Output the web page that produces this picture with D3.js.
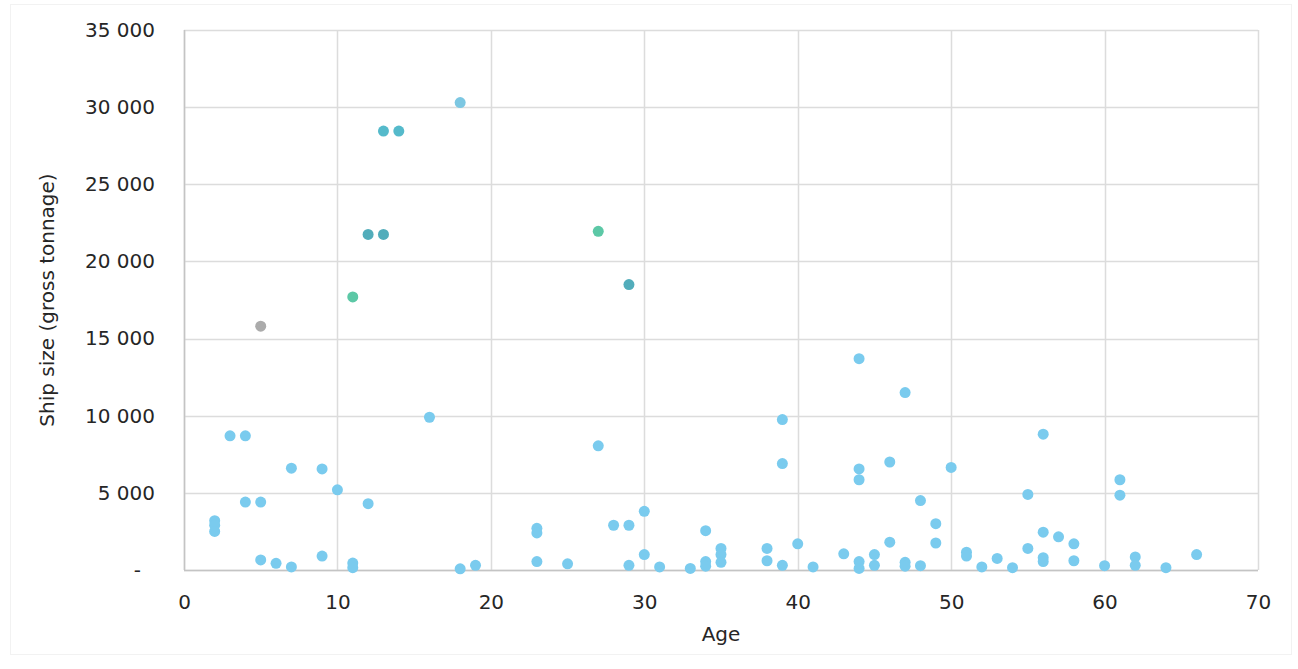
<!DOCTYPE html>
<html>
<head>
<meta charset="utf-8">
<script src="https://cdn.jsdelivr.net/npm/d3@7"></script>
<style>
  html, body { margin: 0; padding: 0; background: #fff; }
  svg { display: block; }
  text { font-family: "DejaVu Sans", Verdana, sans-serif; fill: #262626; }
</style>
</head>
<body>
<svg id="chart" width="1298" height="669"></svg>
<script>
// Ship age (years) vs. ship size (gross tonnage)
const ages = [
  2, 2, 2, 3, 4, 4, 5, 5, 6, 7, 7, 9, 9, 10, 11, 11, 12, 16, 18, 19,
  23, 23, 23, 25, 27, 28, 29, 29, 30, 30, 31, 33, 34, 34, 34, 35, 35, 35,
  38, 38, 39, 39, 39, 40, 41, 43, 44, 44, 44, 44, 44, 45, 45, 46, 46, 47, 47, 47,
  48, 48, 49, 49, 50, 51, 51, 52, 53, 54, 55, 55, 56, 56, 56, 56, 57, 58, 58,
  60, 61, 61, 62, 62, 64, 66,
  18, 13, 14, 12, 13, 11, 5, 27, 29
];
const tonnage = [
  3200, 2900, 2500, 8700, 8700, 4400, 4400, 650, 430, 6600, 200, 6550, 900, 5200, 450, 150, 4300, 9900, 80, 300,
  2700, 2400, 550, 400, 8050, 2900, 2900, 300, 3800, 1000, 200, 100, 2550, 550, 250, 1400, 1000, 500,
  1400, 600, 9750, 6900, 300, 1700, 200, 1050, 13700, 6550, 5850, 550, 100, 1000, 300, 7000, 1800, 11500, 500, 250,
  4500, 280, 3000, 1750, 6650, 1150, 900, 200, 750, 150, 4900, 1400, 8800, 2450, 800, 550, 2150, 1700, 600,
  280, 5850, 4850, 850, 300, 150, 1000,
  30300, 28450, 28450, 21750, 21750, 17700, 15800, 21950, 18500
];
// colour group of each point (index into the palette below)
const groups = [
  0, 0, 0, 0, 0, 0, 0, 0, 0, 0, 0, 0, 0, 0, 0, 0, 0, 0, 0, 0,
  0, 0, 0, 0, 0, 0, 0, 0, 0, 0, 0, 0, 0, 0, 0, 0, 0, 0,
  0, 0, 0, 0, 0, 0, 0, 0, 0, 0, 0, 0, 0, 0, 0, 0, 0, 0, 0, 0,
  0, 0, 0, 0, 0, 0, 0, 0, 0, 0, 0, 0, 0, 0, 0, 0, 0, 0, 0,
  0, 0, 0, 0, 0, 0, 0,
  1, 2, 2, 3, 3, 4, 5, 4, 3
];
const palette = ["#7acbee", "#7cc7e2", "#55bacb", "#52adbb", "#5cc8a6", "#ababab"];

const xTicks = [0, 10, 20, 30, 40, 50, 60, 70];
const yTicks = [0, 5000, 10000, 15000, 20000, 25000, 30000, 35000];
const yTickLabels = ["-", "5 000", "10 000", "15 000", "20 000", "25 000", "30 000", "35 000"];
const xTitle = "Age";
const yTitle = "Ship size (gross tonnage)";

const svg = d3.select("#chart");
const margin = { left: 184, right: 40, top: 30, bottom: 99 };
const W = 1298, H = 669;
const x = d3.scaleLinear().domain([0, 70]).range([margin.left, W - margin.right]);
const y = d3.scaleLinear().domain([0, 35000]).range([H - margin.bottom, margin.top]);

// faint outer frame
svg.append("rect")
  .attr("x", 10.5).attr("y", 4.5).attr("width", 1281).attr("height", 650)
  .attr("fill", "none").attr("stroke", "#f2f2f2");

// grid lines
const grid = svg.append("g");
grid.selectAll("line.h").data(yTicks).join("line")
  .attr("x1", x(0)).attr("x2", x(70))
  .attr("y1", d => Math.round(y(d)) + 0.5).attr("y2", d => Math.round(y(d)) + 0.5)
  .attr("stroke", "#dcdcdc").attr("stroke-width", 1.5);
grid.selectAll("line.v").data(xTicks).join("line")
  .attr("y1", y(0)).attr("y2", y(35000))
  .attr("x1", d => Math.round(x(d)) + 0.5).attr("x2", d => Math.round(x(d)) + 0.5)
  .attr("stroke", "#dcdcdc").attr("stroke-width", 1.5);

// axis lines
svg.append("line").attr("x1", x(0)).attr("x2", x(70))
  .attr("y1", Math.round(y(0)) + 0.5).attr("y2", Math.round(y(0)) + 0.5)
  .attr("stroke", "#c4c4c4").attr("stroke-width", 1.5);
svg.append("line").attr("y1", y(0)).attr("y2", y(35000))
  .attr("x1", Math.round(x(0)) + 0.5).attr("x2", Math.round(x(0)) + 0.5)
  .attr("stroke", "#c4c4c4").attr("stroke-width", 1.5);

// y axis labels
const yAxis = d3.axisLeft(y).tickValues(yTicks)
  .tickFormat((d, i) => yTickLabels[i]).tickSize(0).tickPadding(29);
const gy = svg.append("g").attr("transform", `translate(${x(0)},0)`).call(yAxis);
gy.select(".domain").remove();
gy.selectAll("text").attr("font-size", 20).attr("fill", "#262626")
  .attr("font-family", "DejaVu Sans, Verdana, sans-serif");
gy.selectAll("text").filter((d, i) => i === 0).attr("dx", -14);

// x axis labels
const xAxis = d3.axisBottom(x).tickValues(xTicks).tickSize(0).tickPadding(25);
const gx = svg.append("g").attr("transform", `translate(0,${y(0)})`).call(xAxis);
gx.select(".domain").remove();
gx.selectAll("text").attr("font-size", 20).attr("fill", "#262626")
  .attr("font-family", "DejaVu Sans, Verdana, sans-serif");

// axis titles
svg.append("text").attr("x", (x(0) + x(70)) / 2).attr("y", 641)
  .attr("text-anchor", "middle").attr("font-size", 20).text(xTitle);
svg.append("text")
  .attr("transform", `translate(54,${(y(0) + y(35000)) / 2}) rotate(-90)`)
  .attr("text-anchor", "middle").attr("font-size", 20).text(yTitle);

// points
const pts = ages.map((a, i) => ({ a, t: tonnage[i], g: groups[i] }));
svg.append("g").selectAll("circle").data(pts).join("circle")
  .attr("cx", d => x(d.a)).attr("cy", d => y(d.t))
  .attr("r", 5.5)
  .attr("fill", d => palette[d.g]);
</script>
</body>
</html>
